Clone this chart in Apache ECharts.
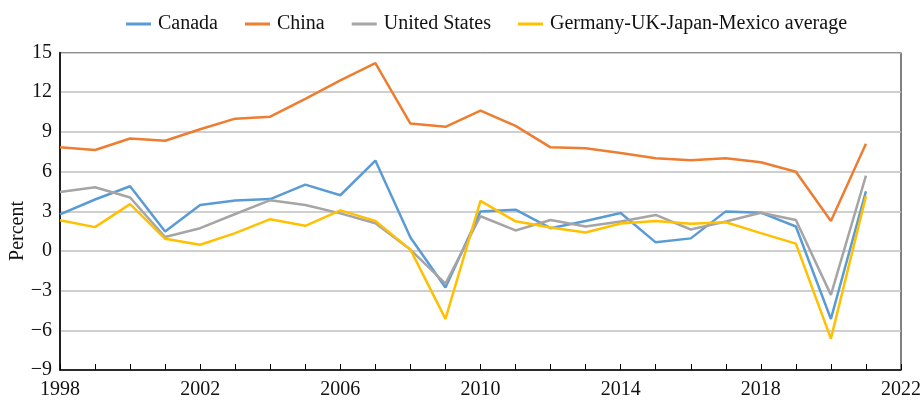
<!DOCTYPE html>
<html>
<head>
<meta charset="utf-8">
<title>Real GDP growth</title>
<script src="https://cdn.jsdelivr.net/npm/echarts@6/dist/echarts.min.js"></script>
<style>
  html, body { margin: 0; padding: 0; background: #fff; }
  #chart { width: 924px; height: 400px; }
</style>
</head>
<body>
<div id="chart"></div>
<script>
// Annual real GDP growth, percent
const years = ['1998','1999','2000','2001','2002','2003','2004','2005','2006','2007','2008','2009',
               '2010','2011','2012','2013','2014','2015','2016','2017','2018','2019','2020','2021','2022'];

const canada = [2.77, 3.89, 4.89, 1.47, 3.47, 3.82, 3.92, 5.01, 4.21, 6.83, 1.02, -2.77,
                2.99, 3.12, 1.72, 2.27, 2.87, 0.65, 0.95, 2.99, 2.89, 1.85, -5.14, 4.51];
const china = [7.83, 7.63, 8.50, 8.33, 9.20, 10.00, 10.15, 11.50, 12.90, 14.19, 9.63, 9.38,
               10.60, 9.45, 7.83, 7.76, 7.41, 7.01, 6.86, 7.01, 6.71, 5.99, 2.27, 8.11];
const unitedStates = [4.46, 4.81, 4.04, 1.05, 1.72, 2.79, 3.84, 3.47, 2.84, 2.09, 0.10, -2.47,
                      2.62, 1.55, 2.34, 1.85, 2.22, 2.72, 1.62, 2.22, 2.89, 2.34, -3.32, 5.69];
const peerAverage = [2.32, 1.80, 3.54, 0.92, 0.47, 1.35, 2.40, 1.90, 3.07, 2.27, 0.10, -5.14,
                     3.79, 2.24, 1.77, 1.40, 2.07, 2.27, 2.05, 2.17, 1.35, 0.55, -6.63, 4.14];

const yTicks = { min: -9, max: 15, step: 3 };

const FONT = '"Liberation Serif", "DejaVu Serif", serif';

const chart = echarts.init(document.getElementById('chart'), null, { renderer: 'canvas' });

function line(name, data, color) {
  return {
    name, type: 'line', data, symbol: 'none', smooth: false,
    lineStyle: { color, width: 2.5 }, itemStyle: { color },
    emphasis: { disabled: true }
  };
}

chart.setOption({
  animation: false,
  backgroundColor: '#fff',
  textStyle: { fontFamily: FONT, color: '#000' },
  legend: {
    left: 121, top: 9,
    icon: 'rect', itemWidth: 25, itemHeight: 3, itemGap: 27,
    textStyle: { fontFamily: FONT, fontSize: 20, color: '#111', padding: [0, 0, 0, 2] }
  },
  grid: {
    left: 60, right: 22, top: 52.5, bottom: 26.7,
    show: true, borderColor: '#000', borderWidth: 1
  },
  xAxis: {
    type: 'category', data: years, boundaryGap: false,
    axisLine: { onZero: false, lineStyle: { color: '#000', width: 1.5 } },
    axisTick: { show: true, inside: true, length: 6, interval: 0, lineStyle: { color: '#000', width: 1 } },
    axisLabel: { interval: 3, fontFamily: FONT, fontSize: 20, color: '#111', margin: 10 },
    splitLine: { show: false }
  },
  yAxis: {
    type: 'value', min: yTicks.min, max: yTicks.max, interval: yTicks.step,
    axisLine: { show: true, lineStyle: { color: '#000', width: 1.5 } },
    axisTick: { show: false },
    axisLabel: {
      fontFamily: FONT, fontSize: 20, color: '#111', margin: 8,
      formatter: v => (v < 0 ? '\u2212' + Math.abs(v) : String(v))
    },
    splitLine: { lineStyle: { color: '#bfbfbf', width: 1.5 } }
  },
  graphic: [{
    type: 'text', x: 18, y: 231, rotation: Math.PI / 2,
    style: { text: 'Percent', fontFamily: FONT, fontSize: 20, fill: '#111',
             textAlign: 'center', textVerticalAlign: 'middle' }
  }],
  series: [
    line('Canada', canada, '#5B9BD5'),
    line('China', china, '#ED7D31'),
    line('United States', unitedStates, '#A5A5A5'),
    line('Germany-UK-Japan-Mexico average', peerAverage, '#FFC000')
  ]
});
</script>
</body>
</html>
